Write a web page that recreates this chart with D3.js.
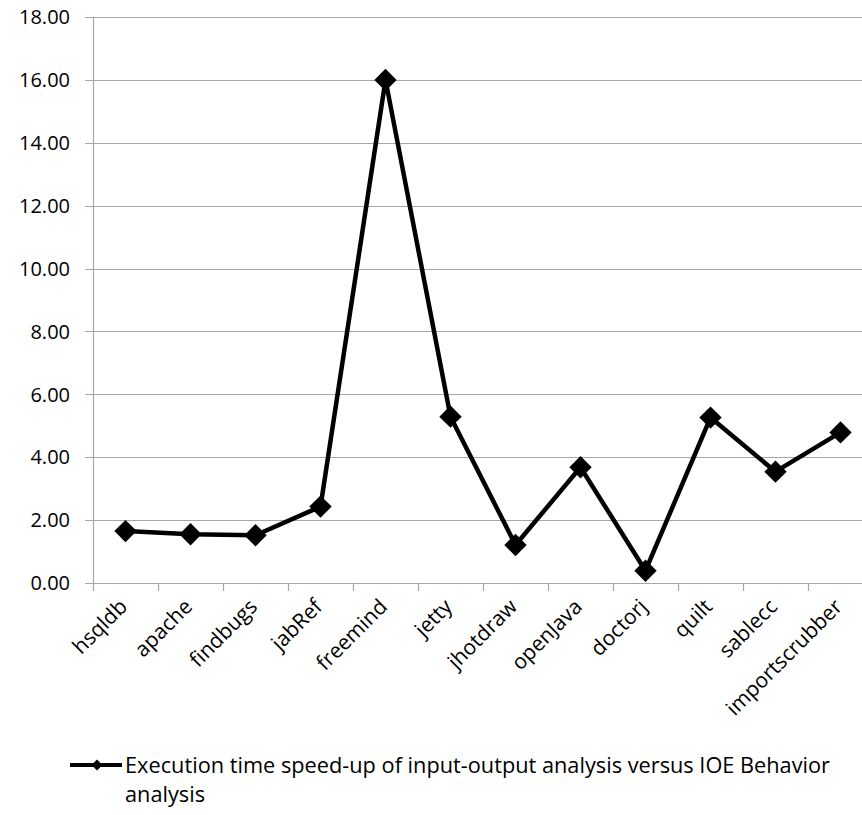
<!DOCTYPE html>
<html>
<head>
<meta charset="utf-8">
<script src="https://cdn.jsdelivr.net/npm/d3@7"></script>
<style>
  body { margin: 0; background: #fff; overflow: hidden; }
  svg { display: block; font-family: "Open Sans", sans-serif; }
</style>
</head>
<body>
<div id="chart"></div>
<script>
const projects = ['hsqldb', 'apache', 'findbugs', 'jabRef', 'freemind', 'jetty',
  'jhotdraw', 'openJava', 'doctorj', 'quilt', 'sablecc', 'importscrubber']
const speedup = [1.65, 1.55, 1.52, 2.43, 16.0, 5.29, 1.21, 3.68, 0.39, 5.26, 3.54, 4.79]
const yTicks = [0, 2, 4, 6, 8, 10, 12, 14, 16, 18]
const seriesName = 'Execution time speed-up of input-output analysis versus IOE Behavior'
const seriesName2 = 'analysis'

const w = 862
const h = 815
const plotLeft = 93
const plotTop = 17
const plotBottom = 583
const bandW = 65

const svg = d3.select('#chart')
  .append('svg')
  .attr('width', w)
  .attr('height', h)

const x = d3.scaleBand()
  .domain(projects)
  .range([plotLeft, plotLeft + bandW * projects.length])

const y = d3.scaleLinear()
  .domain([0, 18])
  .range([plotBottom, plotTop])

// gridlines
svg.append('g')
  .selectAll('line')
  .data(yTicks)
  .join('line')
    .attr('x1', plotLeft - 8)
    .attr('x2', w)
    .attr('y1', d => Math.round(y(d)) + 0.5)
    .attr('y2', d => Math.round(y(d)) + 0.5)
    .attr('stroke', '#a6a6a6')
    .attr('stroke-width', 1.2)

// y axis line
svg.append('line')
  .attr('x1', plotLeft + 0.5).attr('x2', plotLeft + 0.5)
  .attr('y1', plotTop).attr('y2', plotBottom + 8)
  .attr('stroke', '#a6a6a6')
  .attr('stroke-width', 1.2)

// x ticks
svg.append('g')
  .selectAll('line')
  .data(projects.slice(1))
  .join('line')
    .attr('x1', d => Math.round(x(d)) + 0.5)
    .attr('x2', d => Math.round(x(d)) + 0.5)
    .attr('y1', plotBottom)
    .attr('y2', plotBottom + 8)
    .attr('stroke', '#a6a6a6')
    .attr('stroke-width', 1.2)

// y labels
svg.append('g')
  .selectAll('text')
  .data(yTicks)
  .join('text')
    .attr('x', 70)
    .attr('y', d => y(d))
    .attr('dy', '0.36em')
    .attr('text-anchor', 'end')
    .attr('font-size', 20)
    .attr('fill', '#000')
    .text(d => d.toFixed(2))

// x labels
svg.append('g')
  .selectAll('text')
  .data(projects)
  .join('text')
    .attr('transform', d => `translate(${x(d) + x.bandwidth() / 2 + 3}, ${plotBottom + 25}) rotate(-45)`)
    .attr('text-anchor', 'end')
    .attr('font-size', 21)
    .attr('fill', '#000')
    .text(d => d)

// series line
const line = d3.line()
  .x((d, i) => x(projects[i]) + x.bandwidth() / 2)
  .y(d => y(d))

svg.append('path')
  .datum(speedup)
  .attr('d', line)
  .attr('fill', 'none')
  .attr('stroke', '#000')
  .attr('stroke-width', 4.5)
  .attr('stroke-linejoin', 'round')

const diamond = d3.symbol().type(d3.symbolSquare).size(250)

svg.append('g')
  .selectAll('path')
  .data(speedup)
  .join('path')
    .attr('d', diamond)
    .attr('transform', (d, i) => `translate(${x(projects[i]) + x.bandwidth() / 2}, ${y(d)}) rotate(45)`)
    .attr('fill', '#000')

// legend
const legend = svg.append('g')
legend.append('line')
  .attr('x1', 70).attr('x2', 122)
  .attr('y1', 765).attr('y2', 765)
  .attr('stroke', '#000')
  .attr('stroke-width', 4)
legend.append('path')
  .attr('d', d3.symbol().type(d3.symbolSquare).size(60))
  .attr('transform', 'translate(97, 765) rotate(45)')
  .attr('fill', '#000')
legend.append('text')
  .attr('x', 125)
  .attr('y', 773)
  .attr('font-size', 21.5)
  .attr('textLength', 705)
  .attr('lengthAdjust', 'spacingAndGlyphs')
  .text(seriesName)
legend.append('text')
  .attr('x', 125)
  .attr('y', 802)
  .attr('font-size', 21.5)
  .attr('textLength', 80)
  .attr('lengthAdjust', 'spacingAndGlyphs')
  .text(seriesName2)
</script>
</body>
</html>
